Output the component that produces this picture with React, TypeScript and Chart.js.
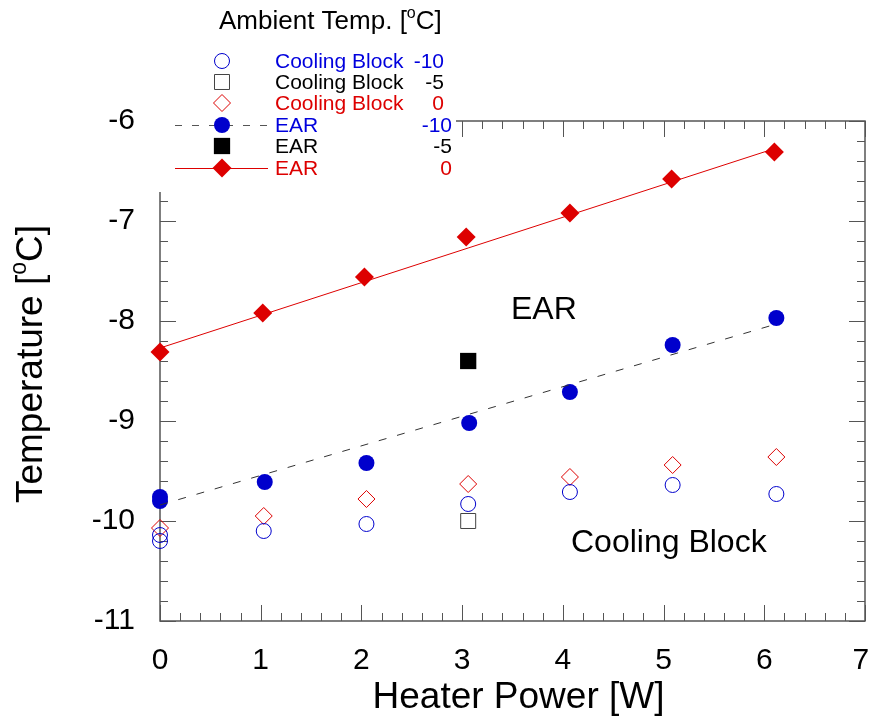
import { useEffect, useRef } from 'react';
import { Chart, registerables } from 'chart.js';
import { drawPoint } from 'chart.js/helpers';

Chart.register(...registerables);

// ---- data ----
const powerCB10 = [0, 0, 1.03, 2.05, 3.06, 4.07, 5.09, 6.12];
const coolingBlockM10 = [-10.14, -10.2, -10.1, -10.03, -9.83, -9.71, -9.64, -9.73];
const powerCB5 = [3.06];
const coolingBlockM5 = [-10.0];
const powerCB0 = [0, 1.03, 2.05, 3.06, 4.07, 5.09, 6.12];
const coolingBlock0 = [-10.07, -9.95, -9.78, -9.63, -9.56, -9.44, -9.36];
const powerEAR10 = [0, 0, 1.04, 2.05, 3.07, 4.07, 5.09, 6.12];
const earM10 = [-9.76, -9.8, -9.61, -9.42, -9.02, -8.71, -8.24, -7.97];
const powerEAR5 = [3.06];
const earM5 = [-8.4];
const powerEAR0 = [0, 1.02, 2.03, 3.04, 4.07, 5.08, 6.1];
const ear0 = [-8.31, -7.92, -7.56, -7.16, -6.92, -6.58, -6.31];
const fitPower = [0, 6.12];
const fitEARM10 = [-9.84, -8.03];
const fitEAR0 = [-8.27, -6.27];

const legendNames = ['Cooling Block', 'Cooling Block', 'Cooling Block', 'EAR', 'EAR', 'EAR'];
const legendTemps = ['-10', '-5', '0', '-10', '-5', '0'];

const BLUE = '#0000cc';
const RED = '#dd0000';
const BLACK = '#000000';
const FONT = '"Liberation Sans", Arial, Helvetica, sans-serif';

const zip = (xs: number[], ys: number[]) => xs.map((x, i) => ({ x, y: ys[i] }));

type Seg = { t: string; sup?: boolean };

function richWidth(ctx: CanvasRenderingContext2D, segs: Seg[], size: number) {
  let w = 0;
  for (const s of segs) {
    ctx.font = `${s.sup ? Math.round(size * 0.62) : size}px ${FONT}`;
    w += ctx.measureText(s.t).width;
  }
  return w;
}

function drawRich(ctx: CanvasRenderingContext2D, segs: Seg[], x: number, y: number, size: number, align: 'left' | 'center') {
  let cx = align === 'center' ? x - richWidth(ctx, segs, size) / 2 : x;
  ctx.textAlign = 'left';
  ctx.textBaseline = 'alphabetic';
  for (const s of segs) {
    const sz = s.sup ? Math.round(size * 0.62) : size;
    ctx.font = `${sz}px ${FONT}`;
    ctx.fillText(s.t, cx, s.sup ? y - size * 0.42 : y);
    cx += ctx.measureText(s.t).width;
  }
}

const markerStyles = [
  { pointStyle: 'circle', radius: 7.5, fill: 'rgba(0,0,0,0)', stroke: BLUE, bw: 1 },
  { pointStyle: 'rect', radius: 10.6, fill: 'rgba(0,0,0,0)', stroke: '#444', bw: 1 },
  { pointStyle: 'rectRot', radius: 8.5, fill: 'rgba(0,0,0,0)', stroke: RED, bw: 1 },
  { pointStyle: 'circle', radius: 8, fill: BLUE, stroke: BLUE, bw: 0 },
  { pointStyle: 'rect', radius: 11.5, fill: BLACK, stroke: BLACK, bw: 0 },
  { pointStyle: 'rectRot', radius: 9.5, fill: RED, stroke: RED, bw: 0 },
];
const legendColors = ['#0000dd', '#000000', RED, '#0000dd', '#000000', RED];

const zeroPad = () => ({ left: 0, top: 0, right: 0, bottom: 0 });

const framePlugin = {
  id: 'frameTicks',
  beforeDatasetsDraw(chart: any) {
    const { ctx, chartArea: a, scales } = chart;
    const xs = scales.x;
    const ys = scales.y;
    ctx.save();
    ctx.strokeStyle = '#555';
    ctx.lineWidth = 1.5;
    ctx.strokeRect(a.left, a.top, a.right - a.left, a.bottom - a.top);
    ctx.lineWidth = 1;
    ctx.beginPath();
    for (let i = 0; i <= 35; i++) {
      const v = i / 5;
      const len = i % 5 === 0 ? 16 : 8;
      const px = Math.round(xs.getPixelForValue(v)) + 0.5;
      ctx.moveTo(px, a.bottom);
      ctx.lineTo(px, a.bottom - len);
      ctx.moveTo(px, a.top);
      ctx.lineTo(px, a.top + len);
    }
    for (let i = 0; i <= 25; i++) {
      const v = -11 + i / 5;
      const len = i % 5 === 0 ? 16 : 8;
      const py = Math.round(ys.getPixelForValue(v)) + 0.5;
      ctx.moveTo(a.left, py);
      ctx.lineTo(a.left + len, py);
      ctx.moveTo(a.right, py);
      ctx.lineTo(a.right - len, py);
    }
    ctx.stroke();
    ctx.restore();
  },
  afterDatasetsDraw(chart: any) {
    const { ctx, chartArea: a } = chart;
    ctx.save();
    // legend box (white, covers frame corner)
    ctx.fillStyle = '#ffffff';
    ctx.fillRect(150, 0, 306, 192);

    ctx.fillStyle = '#000';
    drawRich(ctx, [{ t: 'Ambient Temp. [' }, { t: 'o', sup: true }, { t: 'C]' }], 219, 29, 26, 'left');

    const rowY = [61, 82, 103, 125, 146, 168];
    const mx = 222;
    // line samples
    ctx.strokeStyle = '#555';
    ctx.lineWidth = 1;
    ctx.setLineDash([7, 10]);
    ctx.beginPath();
    ctx.moveTo(175, rowY[3] + 0.5);
    ctx.lineTo(268, rowY[3] + 0.5);
    ctx.stroke();
    ctx.setLineDash([]);
    ctx.strokeStyle = RED;
    ctx.beginPath();
    ctx.moveTo(175, rowY[5] + 0.5);
    ctx.lineTo(268, rowY[5] + 0.5);
    ctx.stroke();

    for (let i = 0; i < 6; i++) {
      const m = markerStyles[i];
      ctx.fillStyle = m.fill;
      ctx.strokeStyle = m.stroke;
      ctx.lineWidth = m.bw;
      drawPoint(ctx, { pointStyle: m.pointStyle, radius: m.radius, borderWidth: m.bw, rotation: 0 } as any, mx, rowY[i]);
      ctx.fillStyle = legendColors[i];
      ctx.font = `21px ${FONT}`;
      ctx.textBaseline = 'alphabetic';
      ctx.textAlign = 'left';
      ctx.fillText(legendNames[i], 275, rowY[i] + 7);
      ctx.textAlign = 'right';
      ctx.fillText(legendTemps[i], i < 3 ? 444 : 452, rowY[i] + 7);
    }

    // annotations
    ctx.fillStyle = '#000';
    ctx.textAlign = 'left';
    ctx.font = `32px ${FONT}`;
    ctx.fillText('EAR', 511, 319);
    ctx.fillText('Cooling Block', 571, 552);

    // axis titles
    drawRich(ctx, [{ t: 'Heater Power [W]' }], (a.left + a.right) / 2 + 6, 708, 37, 'center');
    ctx.save();
    ctx.translate(42, 364);
    ctx.rotate(-Math.PI / 2);
    drawRich(ctx, [{ t: 'Temperature [' }, { t: 'o', sup: true }, { t: 'C]' }], 0, 0, 37, 'center');
    ctx.restore();
    ctx.restore();
  },
};

export default function App() {
  const ref = useRef<HTMLCanvasElement | null>(null);
  useEffect(() => {
    document.body.style.margin = '0';
    const canvas = ref.current!;
    const scatter = (label: string, xs: number[], ys: number[], m: any) => ({
      type: 'scatter' as const,
      label,
      data: zip(xs, ys),
      pointStyle: m.pointStyle,
      pointRadius: m.radius,
      pointHoverRadius: m.radius,
      pointBackgroundColor: m.fill,
      pointBorderColor: m.stroke,
      pointBorderWidth: m.bw,
      showLine: false,
      clip: false as any,
    });
    const chart = new Chart(canvas, {
      type: 'scatter',
      data: {
        datasets: [
          {
            type: 'line',
            label: 'fit EAR -10',
            data: zip(fitPower, fitEARM10),
            borderColor: '#333',
            borderWidth: 1,
            borderDash: [8, 11],
            pointRadius: 0,
            showLine: true,
            fill: false,
          } as any,
          {
            type: 'line',
            label: 'fit EAR 0',
            data: zip(fitPower, fitEAR0),
            borderColor: RED,
            borderWidth: 1,
            pointRadius: 0,
            showLine: true,
            fill: false,
          } as any,
          scatter('Cooling Block -10', powerCB10, coolingBlockM10, markerStyles[0]),
          scatter('Cooling Block -5', powerCB5, coolingBlockM5, markerStyles[1]),
          scatter('Cooling Block 0', powerCB0, coolingBlock0, markerStyles[2]),
          scatter('EAR -10', powerEAR10, earM10, markerStyles[3]),
          scatter('EAR -5', powerEAR5, earM5, markerStyles[4]),
          scatter('EAR 0', powerEAR0, ear0, markerStyles[5]),
        ],
      },
      options: {
        animation: false,
        responsive: false,
        maintainAspectRatio: false,
        layout: { autoPadding: false, padding: { top: 121, right: 4, left: 0, bottom: 0 } },
        plugins: { legend: { display: false }, tooltip: { enabled: false } },
        scales: {
          x: {
            type: 'linear',
            min: 0,
            max: 7,
            grid: { display: false, drawTicks: false },
            border: { display: false },
            ticks: {
              stepSize: 1,
              padding: 22,
              color: '#000',
              font: { family: FONT, size: 30 },
              maxRotation: 0,
              callback: (v: any) => (v === 7 ? '7 ' : String(v)),
            },
            afterFit: (s: any) => {
              s.height = 101;
              s.paddingLeft = 0;
              s.paddingRight = 0;
              s.getPadding = zeroPad;
            },
          },
          y: {
            type: 'linear',
            min: -11,
            max: -6,
            grid: { display: false, drawTicks: false },
            border: { display: false },
            ticks: { stepSize: 1, padding: 25, color: '#000', font: { family: FONT, size: 30 } },
            afterFit: (s: any) => {
              s.width = 160;
              s.paddingTop = 0;
              s.paddingBottom = 0;
              s.getPadding = zeroPad;
            },
          },
        },
      } as any,
      plugins: [framePlugin],
    });
    return () => chart.destroy();
  }, []);
  return (
    <div style={{ width: 869, height: 722 }}>
      <canvas ref={ref} width={869} height={722} />
    </div>
  );
}
